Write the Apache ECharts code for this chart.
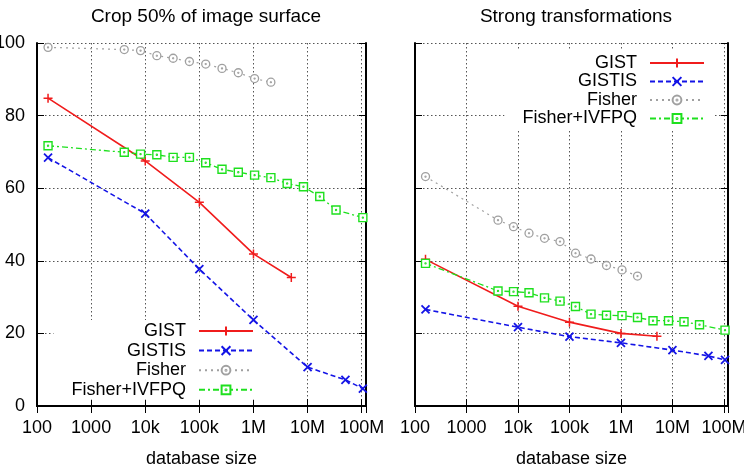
<!DOCTYPE html>
<html>
<head>
<meta charset="utf-8">
<script src="https://cdn.jsdelivr.net/npm/echarts@6/dist/echarts.min.js"></script>
<style>
  html, body { margin: 0; padding: 0; background: #fff; }
  #chart { width: 744px; height: 468px; }
</style>
</head>
<body>
<div id="chart"></div>
<script>
// database sizes (x)
const gistSizes = [160, 1e4, 1e5, 1e6, 5e6];
const gistisSizes = [160, 1e4, 1e5, 1e6, 1e7, 5e7, 1.05e8];
const fisherSizes = [160, 4096, 8192, 16384, 32768, 65536, 131072, 262144, 524288, 1048576, 2097152];
const ivfpqSizes = [160, 4096, 8192, 16384, 32768, 65536, 131072, 262144, 524288, 1048576, 2097152,
  4194304, 8388608, 16777216, 33554432, 1.05e8];

// left panel: Crop 50% of image surface
const gistCrop = [84.8, 67.5, 56.1, 41.9, 35.4];
const gistisCrop = [68.4, 53.0, 37.7, 23.7, 10.7, 7.2, 4.8];
const fisherCrop = [98.8, 98.2, 97.9, 96.5, 95.8, 94.9, 94.2, 93.0, 91.8, 90.2, 89.2];
const ivfpqCrop = [71.7, 69.9, 69.4, 69.2, 68.5, 68.5, 67.0, 65.2, 64.4, 63.6, 62.9, 61.3, 60.4, 57.7, 54.0, 51.9];

// right panel: Strong transformations
const gistStrong = [40.4, 27.5, 23.1, 20.0, 19.2];
const gistisStrong = [26.6, 21.7, 19.1, 17.4, 15.4, 13.8, 12.7];
const fisherStrong = [63.2, 51.2, 49.4, 47.6, 46.2, 45.3, 42.1, 40.5, 38.7, 37.5, 35.8];
const ivfpqStrong = [39.3, 31.7, 31.5, 31.2, 29.8, 28.9, 27.4, 25.3, 25.0, 24.9, 24.4, 23.5, 23.5, 23.2, 22.4, 20.9];

const tickLabels = { 2: '100', 3: '1000', 4: '10k', 5: '100k', 6: '1M', 7: '10M', 8: '100M' };
const titles = ['Crop 50% of image surface', 'Strong transformations'];

const FONT = 'Liberation Sans, Arial, Helvetica, sans-serif';
const RED = '#f01c1c', BLUE = '#1414e6', GRAY = '#a0a0a0', GREEN = '#1ee01e';

const PLUS = 'path://M0,5L10,5M5,0L5,10';
const CROSS = 'path://M0,0L10,10M10,0L0,10';
const RING = 'path://M10,5A5,5,0,1,1,0,5A5,5,0,1,1,10,5ZM5.6,5A0.6,0.6,0,1,1,4.4,5A0.6,0.6,0,1,1,5.6,5Z';
const BOX = 'path://M0,0L10,0L10,10L0,10ZM5.6,5A0.6,0.6,0,1,1,4.4,5A0.6,0.6,0,1,1,5.6,5Z';

function pairs(xs, ys) {
  return xs.map(function (x, i) { return [x, ys[i]]; });
}

function xLabel(v) {
  const e = Math.round(Math.log10(v));
  if (Math.abs(Math.pow(10, e) - v) / v > 1e-6) return '';
  return tickLabels[e] || '';
}

function xAxisFor(grid, pos) {
  return {
    type: 'log', gridIndex: grid, position: pos, min: 100, max: 1.2e8, logBase: 10,
    name: pos === 'bottom' ? 'database size' : '',
    nameLocation: 'middle', nameGap: 44,
    nameTextStyle: { fontSize: 18, color: '#000', fontFamily: FONT },
    axisLine: { show: true, lineStyle: { color: '#000', width: 2 } },
    axisTick: { show: true, inside: true, length: 7, lineStyle: { color: '#000', width: 1 } },
    minorTick: { show: false },
    axisLabel: {
      show: pos === 'bottom', margin: 13, fontSize: 18, color: '#000', fontFamily: FONT,
      formatter: xLabel, showMinLabel: true, showMaxLabel: false
    },
    splitLine: {
      show: pos === 'bottom',
      lineStyle: { color: '#555', width: 1, type: [1.5, 2.5] }
    }
  };
}

function yAxisFor(grid, pos, labels) {
  return {
    type: 'value', gridIndex: grid, position: pos, min: 0, max: 100, interval: 20,
    axisLine: { show: true, lineStyle: { color: '#000', width: 2 } },
    axisTick: { show: true, inside: true, length: 7, lineStyle: { color: '#000', width: 1 } },
    axisLabel: { show: labels, margin: 12, fontSize: 18, color: '#000', fontFamily: FONT },
    splitLine: {
      show: pos === 'left',
      lineStyle: { color: '#555', width: 1, type: [1.5, 2.5] }
    }
  };
}

function makeSeries(name, xs, ys, panel, style) {
  return {
    name: name, type: 'line', xAxisIndex: panel * 2, yAxisIndex: panel * 2,
    data: pairs(xs, ys),
    symbol: style.symbol, symbolSize: style.size,
    showAllSymbol: true,
    lineStyle: { color: style.color, width: style.width, type: style.dash },
    itemStyle: { color: style.fill, borderColor: style.color, borderWidth: style.bw },
    emphasis: { disabled: true },
    z: 3
  };
}

const styles = {
  GIST: { symbol: PLUS, size: 9, color: RED, width: 1.6, dash: 'solid', fill: RED, bw: 1.5 },
  GISTIS: { symbol: CROSS, size: 8, color: BLUE, width: 1.6, dash: [5, 3], fill: BLUE, bw: 1.8 },
  Fisher: { symbol: RING, size: 8, color: GRAY, width: 1.2, dash: [2, 4], fill: '#fff', bw: 1.3 },
  'Fisher+IVFPQ': { symbol: BOX, size: 8, color: GREEN, width: 1.3, dash: [6, 3, 2, 3], fill: '#fff', bw: 1.4 }
};

const legendNames = ['GIST', 'GISTIS', 'Fisher', 'Fisher+IVFPQ'];

function legendFor(pos, gap) {
  return Object.assign({
    data: legendNames, orient: 'vertical', align: 'right',
    itemWidth: 54, itemHeight: 11, itemGap: gap,
    backgroundColor: '#fff', z: 1, selectedMode: false,
    formatter: function (n) { return '{n|' + n + '}'; },
    textStyle: {
      color: '#000', fontSize: 18, fontFamily: FONT,
      rich: { n: { fontSize: 18, fontFamily: FONT, color: '#000', lineHeight: 16, padding: [0, 8, 0, 0] } }
    }
  }, pos);
}

const series = [];
[[gistCrop, gistisCrop, fisherCrop, ivfpqCrop], [gistStrong, gistisStrong, fisherStrong, ivfpqStrong]]
  .forEach(function (vals, panel) {
    series.push(makeSeries('GIST', gistSizes, vals[0], panel, styles.GIST));
    series.push(makeSeries('GISTIS', gistisSizes, vals[1], panel, styles.GISTIS));
    series.push(makeSeries('Fisher', fisherSizes, vals[2], panel, styles.Fisher));
    series.push(makeSeries('Fisher+IVFPQ', ivfpqSizes, vals[3], panel, styles['Fisher+IVFPQ']));
  });

const chart = echarts.init(document.getElementById('chart'), null, { renderer: 'canvas' });
chart.setOption({
  animation: false,
  backgroundColor: '#fff',
  title: [
    { text: titles[0], left: 201, top: 2, textAlign: 'center',
      textStyle: { fontSize: 19, fontWeight: 'normal', color: '#000', fontFamily: FONT } },
    { text: titles[1], left: 571, top: 2, textAlign: 'center',
      textStyle: { fontSize: 19, fontWeight: 'normal', color: '#000', fontFamily: FONT } }
  ],
  legend: [
    legendFor({ right: 482, top: 320, padding: [2, 8, 1, 18] }, 1.6),
    legendFor({ right: 29, top: 51, padding: [3, 10, 2, 18] }, 0.5)
  ],
  grid: [
    { left: 37, right: 378, top: 43, bottom: 62, outerBoundsMode: 'none', containLabel: false },
    { left: 415, right: 16, top: 43, bottom: 62, outerBoundsMode: 'none', containLabel: false }
  ],
  xAxis: [xAxisFor(0, 'bottom'), xAxisFor(0, 'top'), xAxisFor(1, 'bottom'), xAxisFor(1, 'top')],
  yAxis: [yAxisFor(0, 'left', true), yAxisFor(0, 'right', false), yAxisFor(1, 'left', false), yAxisFor(1, 'right', false)],
  series: series
});
</script>
</body>
</html>
